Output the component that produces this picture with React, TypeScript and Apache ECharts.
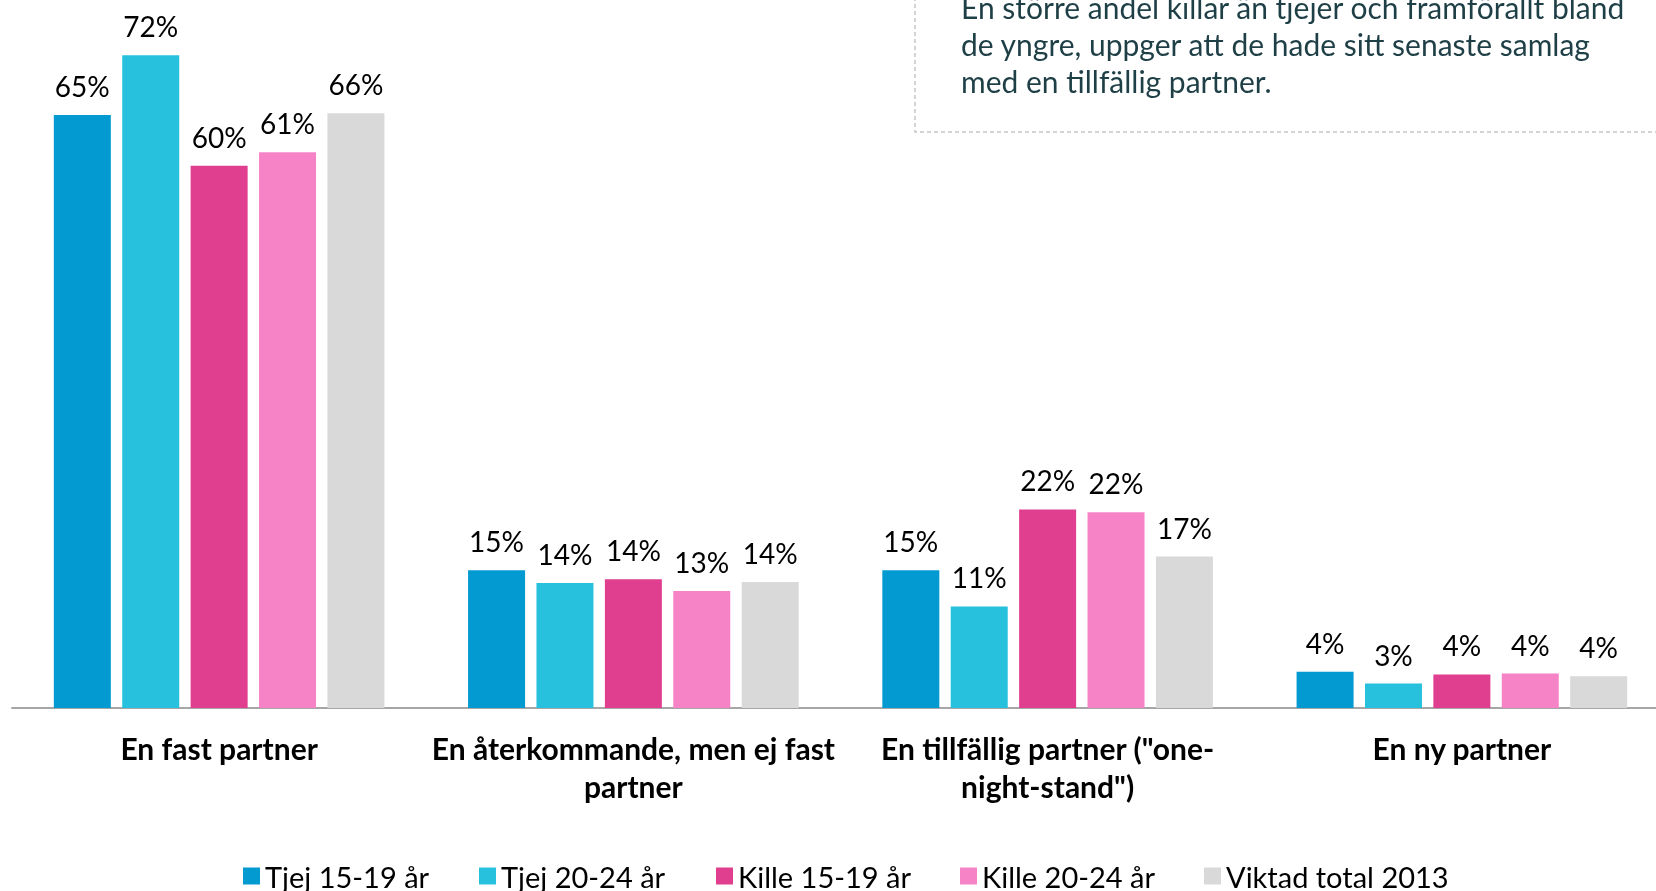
import React, { useEffect, useRef } from "react";
import * as echarts from "echarts";

const categories = [
  "En fast partner",
  "En återkommande, men ej fast\npartner",
  'En tillfällig partner ("one-\nnight-stand")',
  "En ny partner",
];
const seriesNames = ["Tjej 15-19 år", "Tjej 20-24 år", "Kille 15-19 år", "Kille 20-24 år", "Viktad total 2013"];
const tjej1519 = [65.4, 15.2, 15.2, 4.0];
const tjej2024 = [72.0, 13.8, 11.2, 2.7];
const kille1519 = [59.8, 14.2, 21.9, 3.7];
const kille2024 = [61.3, 12.9, 21.6, 3.8];
const viktad = [65.6, 13.9, 16.7, 3.5];
const seriesValues = [tjej1519, tjej2024, kille1519, kille2024, viktad];
const colors = ["#0399d1", "#27c1de", "#e03e8f", "#f783c7", "#d9d9d9"];
const noteLines = [
  "En större andel killar än tjejer och framförallt bland",
  "de yngre, uppger att de hade sitt senaste samlag",
  "med en tillfällig partner.",
];
const legendLeft = [243, 479, 716, 960, 1204];

export default function App() {
  const ref = useRef<HTMLDivElement>(null);
  useEffect(() => {
    if (!ref.current) return;
    const chart = echarts.init(ref.current, undefined, { renderer: "svg" });
    const font = "Lato";
    chart.setOption({
      animation: false,
      color: colors,
      grid: { left: 12, width: 1657, top: 28, height: 680, containLabel: false },
      xAxis: {
        type: "category",
        data: categories,
        axisLine: { lineStyle: { color: "#a6a6a6", width: 2 } },
        axisTick: { show: false },
        axisLabel: {
          interval: 0,
          fontFamily: font,
          fontWeight: "bold",
          fontSize: 30,
          lineHeight: 38,
          color: "#000",
          margin: 21,
        },
      },
      yAxis: { type: "value", min: 0, max: 75, show: false, splitLine: { show: false } },
      legend: seriesNames.map((n, i) => ({
        data: [n],
        left: legendLeft[i],
        top: 861,
        padding: 0,
        itemWidth: 17,
        itemHeight: 17,
        icon: "rect",
        textStyle: { fontFamily: font, fontSize: 29, lineHeight: 30, color: "#000" },
      })),
      graphic: [
        {
          type: "rect",
          shape: { x: 915, y: -20, width: 800, height: 152 },
          style: { fill: "#fff", stroke: "#c6c6c6", lineWidth: 1.5, lineDash: [4, 3] },
        },
        {
          type: "text",
          x: 961,
          y: -12,
          style: {
            text: noteLines.join("\n"),
            fontFamily: font,
            fontSize: 30,
            lineHeight: 37,
            fill: "#1e3f46",
            verticalAlign: "top",
          },
        },
      ],
      series: seriesNames.map((n, i) => ({
        name: n,
        type: "bar",
        data: seriesValues[i],
        barWidth: 57,
        barGap: "20%",
        itemStyle: { color: colors[i] },
        label: {
          show: true,
          position: "top",
          distance: 15,
          fontFamily: font,
          fontSize: 28,
          lineHeight: 28,
          color: "#000",
          formatter: (p: any) => Math.round(p.value) + "%",
        },
      })),
    });
    return () => chart.dispose();
  }, []);
  return (
    <div style={{ position: "fixed", left: 0, top: 0, width: 1656, height: 891, overflow: "hidden" }}>
      <div ref={ref} style={{ position: "absolute", left: 0, top: 0, width: 1690, height: 891 }} />
    </div>
  );
}
